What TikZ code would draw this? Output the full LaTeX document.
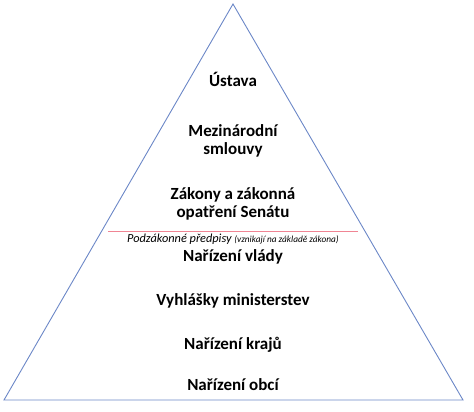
\documentclass[tikz,border=0pt]{standalone}
\usepackage{fontspec}
\setmainfont{Carlito}
\usepackage{tikz}
\definecolor{pyramidBlue}{rgb}{0.42, 0.53, 0.78}
\definecolor{borderRed}{rgb}{0.94, 0.52, 0.58}
\tikzset{level/.style={font=\bfseries\fontsize{17}{18}\selectfont, align=center, anchor=base, inner sep=0pt}}

\begin{document}
\begin{tikzpicture}[x=1pt, y=-1pt]
        \useasboundingbox (0,0) rectangle (474,412);

        \coordinate (apex)  at (233,  4);
        \coordinate (left)  at (  4,400);
        \coordinate (right) at (463,400);
        \draw[pyramidBlue, line width=0.9pt, line join=miter] (apex) -- (right) -- (left) -- cycle;

        \coordinate (cutL) at (108,231);
        \coordinate (cutR) at (358,231);
        \draw[borderRed, line width=1pt] (cutL) -- (cutR);

        % two-line nodes sit on the baseline of their last line
        \node[level] (ustava)   at (233, 87) {Ústava};
        \node[level] (smlouvy)  at (233,154) {Mezinárodní\\smlouvy};
        \node[level] (zakony)   at (233,217) {Zákony a zákonná\\opatření Senátu};

        \node[anchor=base, inner sep=0pt] (podzak) at (233,242)
            {\itshape\fontsize{12.3}{14}\selectfont Podzákonné předpisy {\fontsize{9.3}{11}\selectfont (vznikají na základě zákona)}};

        \node[level] (vlada)    at (233,261) {Nařízení vlády};
        \node[level] (vyhlasky) at (233,305) {Vyhlášky ministerstev};
        \node[level] (kraje)    at (233,349) {Nařízení krajů};
        \node[level] (obce)     at (233,390) {Nařízení obcí};
    \end{tikzpicture}
\end{document}
